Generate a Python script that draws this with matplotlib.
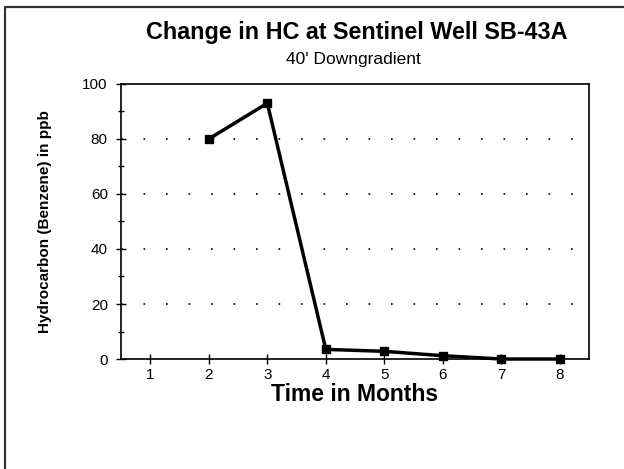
import numpy as np
import matplotlib
matplotlib.use("Agg")
import matplotlib.pyplot as plt
from matplotlib.lines import Line2D
from matplotlib.ticker import MultipleLocator

# data
months = [1, 2, 3, 4, 5, 6, 7, 8]
benzene_ppb = [np.nan, 80, 93, 3.5, 2.8, 1.2, 0, 0]
y_ticks = [0, 20, 40, 60, 80, 100]
grid_levels = [20, 40, 60, 80]

plt.rcParams["font.family"] = ["Liberation Sans", "DejaVu Sans"]

fig = plt.figure(figsize=(6.24, 4.69), dpi=100)
ax = fig.add_axes([0.194, 0.2345, 0.75, 0.5865])

# outer frame (cropped on right and bottom in the original)
x0 = 5 / 624
y0 = 1 - 7 / 469
fig.add_artist(Line2D([x0, x0, 1.0], [0.0, y0, y0], transform=fig.transFigure,
                      color="#333333", linewidth=1.6))

for level in grid_levels:
    ax.axhline(level, color="black", linewidth=1.2, linestyle=(0, (1, 12.5)), zorder=1)

ax.plot(months, benzene_ppb, color="black", linewidth=2.5, marker="s",
        markersize=6.3, zorder=3, clip_on=False)

ax.set_xlim(0.5, 8.5)
ax.set_ylim(0, 100)
ax.set_xticks(months)
ax.set_yticks(y_ticks)
ax.yaxis.set_minor_locator(MultipleLocator(10))

ax.tick_params(axis="both", which="major", direction="inout", length=7, width=1,
               labelsize=11)
ax.tick_params(axis="y", which="major", pad=6)
ax.tick_params(axis="x", which="major", pad=3)
ax.tick_params(axis="y", which="minor", direction="inout", length=5, width=1)
for spine in ax.spines.values():
    spine.set_linewidth(1.2)

ax.set_xlabel("Time in Months", fontsize=16.5, fontweight="bold", labelpad=1)
ax.set_ylabel("Hydrocarbon (Benzene) in ppb", fontsize=11, fontweight="bold", labelpad=22)

fig.text(0.571, 0.931, "Change in HC at Sentinel Well SB-43A", ha="center", va="center",
         fontsize=16.8, fontweight="bold")
fig.text(0.567, 0.874, "40' Downgradient", ha="center", va="center", fontsize=12.5)

fig.savefig("out.png", dpi=100)
